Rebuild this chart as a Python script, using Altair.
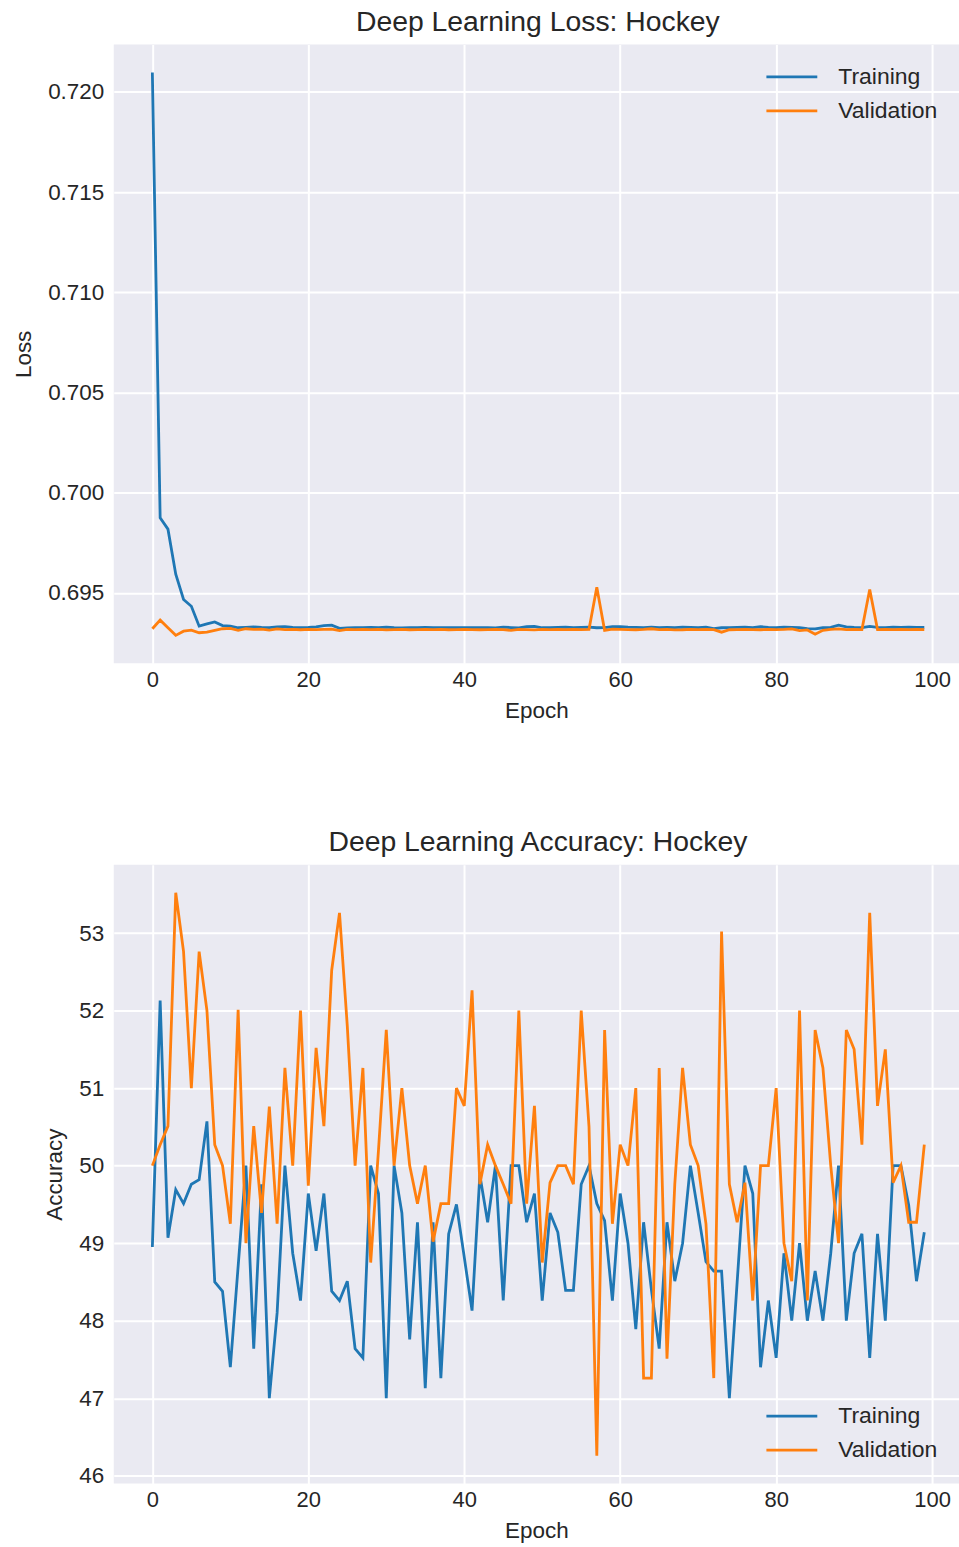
import altair as alt
import pandas as pd

epochs = list(range(100))
series_names = ["Training", "Validation"]
series_colors = ["#1f77b4", "#ff7f0e"]

loss_train = [
    0.72096, 0.69874, 0.69818, 0.69593, 0.69467, 0.69433, 0.69334, 0.69345, 0.69355, 0.69337,
    0.69334, 0.69326, 0.69328, 0.69330, 0.69328, 0.69327, 0.69330, 0.69331, 0.69328, 0.69327,
    0.69328, 0.69330, 0.69337, 0.69339, 0.69323, 0.69325, 0.69327, 0.69326, 0.69328, 0.69327,
    0.69329, 0.69326, 0.69325, 0.69327, 0.69326, 0.69328, 0.69327, 0.69326, 0.69327, 0.69326,
    0.69327, 0.69326, 0.69327, 0.69326, 0.69325, 0.69329, 0.69327, 0.69325, 0.69331, 0.69333,
    0.69326, 0.69327, 0.69328, 0.69329, 0.69327, 0.69328, 0.69329, 0.69326, 0.69327, 0.69332,
    0.69331, 0.69329, 0.69328, 0.69327, 0.69329, 0.69326, 0.69328, 0.69327, 0.69329, 0.69328,
    0.69327, 0.69329, 0.69322, 0.69326, 0.69327, 0.69328, 0.69329, 0.69327, 0.69331, 0.69328,
    0.69327, 0.69329, 0.69328, 0.69327, 0.69322, 0.69320, 0.69326, 0.69328, 0.69339, 0.69330,
    0.69328, 0.69327, 0.69333, 0.69328, 0.69327, 0.69329, 0.69328, 0.69329, 0.69328, 0.69328,
]
loss_val = [
    0.69321, 0.69364, 0.69326, 0.69288, 0.69309, 0.69314, 0.69301, 0.69304, 0.69313, 0.69321,
    0.69323, 0.69313, 0.69321, 0.69318, 0.69319, 0.69314, 0.69320, 0.69317, 0.69318, 0.69316,
    0.69318, 0.69317, 0.69318, 0.69319, 0.69312, 0.69318, 0.69317, 0.69318, 0.69317, 0.69318,
    0.69315, 0.69317, 0.69318, 0.69316, 0.69317, 0.69318, 0.69317, 0.69318, 0.69316, 0.69317,
    0.69318, 0.69317, 0.69316, 0.69317, 0.69318, 0.69317, 0.69313, 0.69318, 0.69317, 0.69315,
    0.69318, 0.69317, 0.69318, 0.69317, 0.69318, 0.69317, 0.69318, 0.69528, 0.69313, 0.69319,
    0.69318, 0.69317, 0.69316, 0.69318, 0.69321, 0.69317, 0.69318, 0.69315, 0.69316, 0.69318,
    0.69317, 0.69318, 0.69317, 0.69304, 0.69316, 0.69317, 0.69318, 0.69317, 0.69316, 0.69318,
    0.69317, 0.69318, 0.69320, 0.69312, 0.69315, 0.69294, 0.69313, 0.69318, 0.69320, 0.69317,
    0.69318, 0.69317, 0.69517, 0.69317, 0.69318, 0.69317, 0.69318, 0.69317, 0.69318, 0.69317,
]

acc_train = [
    48.95, 52.13, 49.07, 49.69, 49.51, 49.76, 49.82, 50.57, 48.50, 48.38,
    47.40, 48.70, 50.00, 47.64, 49.76, 47.00, 48.10, 50.00, 48.87, 48.26,
    49.64, 48.90, 49.64, 48.38, 48.26, 48.51, 47.64, 47.52, 50.00, 49.64,
    47.00, 50.00, 49.39, 47.76, 49.27, 47.13, 49.27, 47.26, 49.12, 49.50,
    48.82, 48.13, 49.88, 49.27, 50.00, 48.26, 50.00, 50.00, 49.27, 49.64,
    48.26, 49.39, 49.14, 48.39, 48.39, 49.76, 50.00, 49.51, 49.29, 48.26,
    49.64, 49.00, 47.89, 49.27, 48.40, 47.64, 49.27, 48.51, 49.00, 50.00,
    49.39, 48.76, 48.64, 48.64, 47.00, 48.50, 50.00, 49.64, 47.40, 48.26,
    47.52, 48.87, 48.00, 49.00, 48.00, 48.64, 48.00, 48.87, 50.00, 48.00,
    48.87, 49.12, 47.52, 49.12, 48.00, 50.00, 50.00, 49.49, 48.51, 49.14,
]
acc_val = [
    50.00, 50.27, 50.51, 53.52, 52.76, 51.00, 52.76, 52.00, 50.27, 50.00,
    49.25, 52.01, 49.00, 50.51, 49.39, 50.76, 49.25, 51.26, 50.00, 52.00,
    49.74, 51.52, 50.51, 52.52, 53.26, 51.80, 50.00, 51.26, 48.75, 50.20,
    51.75, 50.00, 51.00, 50.00, 49.51, 50.00, 49.02, 49.51, 49.51, 51.00,
    50.77, 52.26, 49.76, 50.27, 50.00, 49.76, 49.51, 52.00, 49.51, 50.77,
    48.75, 49.78, 50.00, 50.00, 49.76, 52.00, 50.50, 46.26, 51.75, 49.25,
    50.27, 50.00, 51.00, 47.26, 47.26, 51.26, 47.51, 49.76, 51.26, 50.27,
    50.00, 49.25, 47.26, 53.02, 49.76, 49.27, 49.78, 48.26, 50.00, 50.00,
    51.00, 49.00, 48.51, 52.00, 48.26, 51.75, 51.26, 50.00, 49.00, 51.75,
    51.50, 50.27, 53.26, 50.77, 51.50, 49.78, 50.00, 49.27, 49.27, 50.27,
]

x_ticks = [0, 20, 40, 60, 80, 100]
loss_ticks = [0.695, 0.700, 0.705, 0.710, 0.715, 0.720]
acc_ticks = [46, 47, 48, 49, 50, 51, 52, 53]


def long_df(train, val):
    return pd.DataFrame({
        "Epoch": epochs + epochs,
        "value": train + val,
        "series": [series_names[0]] * len(train) + [series_names[1]] * len(val),
    })


FONT = "Liberation Sans"
TXT = "#262626"
W, H = 847, 620
x_domain = [-4.95, 103.45]


def panel(df, title, ytitle, ydomain, yticks, yfmt, legend_x, legend_y):
    return alt.Chart(df).mark_line(strokeWidth=2.8, clip=True).encode(
        x=alt.X("Epoch:Q", scale=alt.Scale(domain=x_domain, nice=False, zero=False),
                axis=alt.Axis(values=x_ticks, title="Epoch", format="d")),
        y=alt.Y("value:Q", scale=alt.Scale(domain=ydomain, nice=False, zero=False),
                axis=alt.Axis(values=yticks, title=ytitle, format=yfmt)),
        color=alt.Color("series:N",
                        scale=alt.Scale(domain=series_names, range=series_colors),
                        legend=alt.Legend(orient="none", legendX=legend_x, legendY=legend_y,
                                          title=None,
                                          symbolType="M-2,0H2", symbolSize=650,
                                          symbolStrokeWidth=2.8, labelFontSize=23,
                                          labelFont=FONT, labelColor=TXT, labelOffset=32,
                                          rowPadding=7, padding=0)),
    ).properties(
        width=W, height=H,
        title=alt.TitleParams(title, fontSize=28.4, font=FONT, fontWeight="normal",
                              color=TXT, anchor="middle", dx=1.5, offset=7),
    )


top = panel(long_df(loss_train, loss_val), "Deep Learning Loss: Hockey", "Loss",
            [0.69149, 0.72236], loss_ticks, ".3f", 665, 18)
bottom = panel(long_df(acc_train, acc_val), "Deep Learning Accuracy: Hockey", "Accuracy",
               [45.90, 53.88], acc_ticks, "d", 665, 538)

chart = alt.vconcat(top, bottom, spacing=106).resolve_scale(
    color="independent").resolve_legend(color="independent").properties(
    padding={"left": 12, "top": 6, "right": 0, "bottom": 0},
    background="white",
).configure_view(
    fill="#EAEAF2", strokeWidth=0,
).configure_axis(
    domain=False, ticks=False, grid=True, gridColor="white", gridWidth=2,
    labelFont=FONT, labelFontSize=22, labelColor=TXT,
    titleFont=FONT, titleFontSize=22.5, titleFontWeight="normal", titleColor=TXT,
).configure_axisX(
    labelPadding=6, titlePadding=9,
).configure_axisY(
    labelPadding=10, titlePadding=12, labelFontSize=22.5,
)

chart.save("out.html", embed_options={"renderer": "svg", "actions": False})
